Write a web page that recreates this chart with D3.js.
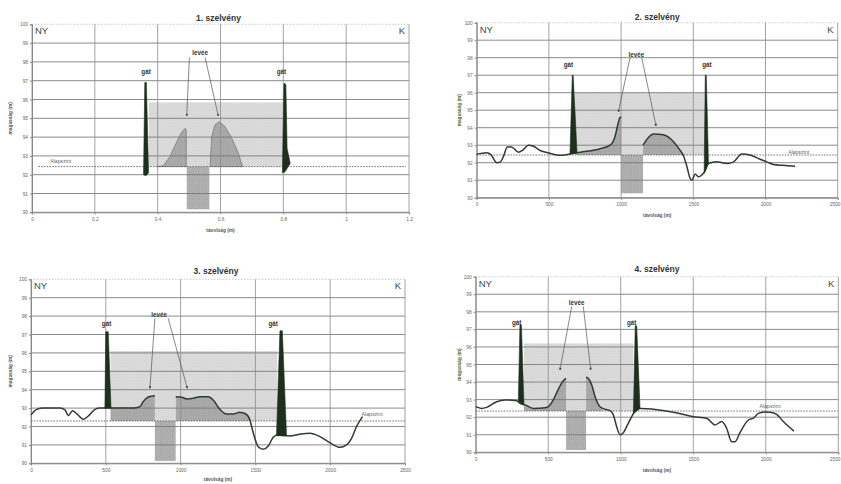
<!DOCTYPE html>
<html><head><meta charset="utf-8">
<script src="https://cdn.jsdelivr.net/npm/d3@7/dist/d3.min.js"></script>
<style>html,body{margin:0;padding:0;background:#fff}svg{display:block}</style>
</head><body>
<script>
// ---------- DATA ----------
const titles = ["1. szelvény","2. szelvény","3. szelvény","4. szelvény"];
const yTicks = [90,91,92,93,94,95,96,97,98,99,100];
const xTicks1 = [0,0.2,0.4,0.6,0.8,1,1.2];
const xTicks = [0,500,1000,1500,2000,2500];
const xTitle = "távolság (m)";
const yTitle = "magasság (m)";
const alapszint = [92.43, 92.44, 92.3, 92.35];
const floodTop = [95.85, 96.0, 96.1, 96.2];
const floodX = [[0.372,0.800],[680,1580],[532,1646],[333,1087]];
const channelX = [[0.4925,0.5645],[1000,1152],[828,967],[623,761]];
const channelBottom = [90.16, 90.25, 90.13, 90.13];
const leveeRanges = [[],[[690,1000],[1152,1445]],[[532,828],[967,1463]],[[333,623],[761,870]]];

// panel 1: levées directly on the base level
const levee1W = [[0.397,92.43],[0.418,92.48],[0.439,92.96],[0.461,93.76],[0.477,94.29],[0.488,94.47],[0.491,94.38],[0.491,92.43]];
const levee1E = [[0.567,92.43],[0.572,94.02],[0.582,94.65],[0.596,94.82],[0.614,94.56],[0.636,93.94],[0.657,93.14],[0.670,92.43]];

// terrain profiles (west and east of the channel)
const terrain2W = [[0,92.48],[69,92.57],[100,92.45],[139,92.0],[160,92.02],[185,92.35],[212,92.9],[240,92.9],[289,92.6],[320,92.72],[358,93.0],[390,92.95],[439,92.7],[500,92.55],[577,92.42],[647,92.5],[716,92.6],[855,92.8],[924,93.0],[958,93.5],[981,94.3],[993,94.6],[1000,94.55]];
const terrain2E = [[1152,93.0],[1185,93.4],[1224,93.64],[1293,93.6],[1363,93.2],[1409,92.7],[1432,92.4],[1455,91.8],[1478,91.1],[1490,91.0],[1513,91.35],[1535,91.2],[1559,91.3],[1580,91.5],[1600,91.9],[1621,92.0],[1663,92.06],[1700,92.0],[1732,91.96],[1779,92.05],[1836,92.5],[1894,92.44],[1963,92.2],[2009,92.05],[2055,91.9],[2120,91.85],[2205,91.8]];
const terrain3W = [[0,92.63],[38,92.93],[82,93.0],[194,93.0],[227,92.9],[249,92.6],[278,92.86],[305,92.7],[350,92.4],[383,92.57],[428,92.93],[461,93.0],[539,93.0],[684,93.0],[728,93.08],[750,93.35],[784,93.6],[828,93.67]];
const terrain3E = [[967,93.62],[1007,93.59],[1040,93.5],[1085,93.53],[1129,93.62],[1185,93.62],[1218,93.44],[1263,92.93],[1307,92.68],[1352,92.68],[1396,92.77],[1437,92.68],[1463,92.36],[1485,91.67],[1519,90.9],[1552,90.76],[1586,90.94],[1619,91.41],[1646,91.54],[1730,91.49],[1797,91.58],[1864,91.63],[1931,91.45],[1998,91.12],[2065,90.87],[2109,91.0],[2143,91.36],[2176,92.0],[2216,92.54]];
const terrain4W = [[0,92.6],[41,92.5],[76,92.56],[145,92.88],[202,92.98],[283,92.94],[306,92.79],[340,92.7],[398,92.5],[478,92.54],[501,92.6],[535,92.98],[570,93.6],[604,94.08],[623,94.21]];
const terrain4E = [[761,94.27],[777,94.2],[800,93.83],[823,93.17],[857,92.6],[891,92.45],[926,92.37],[949,92.13],[972,91.46],[995,91.0],[1018,91.12],[1052,91.65],[1087,92.2],[1110,92.5],[1144,92.5],[1225,92.45],[1363,92.28],[1500,92.03],[1592,91.94],[1650,91.56],[1696,91.75],[1730,91.37],[1765,90.6],[1788,90.6],[1822,91.12],[1880,91.84],[1914,91.94],[1949,92.22],[1995,92.3],[2029,92.28],[2075,92.16],[2121,91.75],[2194,91.21]];

// dikes (gát)
const gat1 = [[[0.355,92.0],[0.359,96.9],[0.364,96.9],[0.371,92.1],[0.363,91.95]],[[0.797,92.1],[0.802,96.86],[0.808,96.8],[0.812,93.4],[0.822,92.6],[0.805,92.15]]];
const gat2 = [[[646,92.5],[662,97.0],[668,97.0],[695,92.55]],[[1575,91.4],[1583,97.0],[1590,97.0],[1605,92.0]]];
const gat3 = [[[494,93.0],[500,97.15],[516,97.15],[535,93.0]],[[1641,91.5],[1664,97.2],[1680,97.2],[1708,91.5]]];
const gat4 = [[[294,92.9],[305,97.25],[315,97.25],[333,92.7]],[[1087,92.2],[1100,97.2],[1110,97.2],[1133,92.5]]];

// annotations
const leveeLabel = [[0.535,98.49],[1106,98.15],[857,98.06],[696,98.5]];
const leveeArrows = [
  [[[0.501,98.24],[0.4925,95.12]],[[0.551,98.24],[0.593,95.12]]],
  [[[1062,98.0],[981,94.9]],[[1143,98.0],[1242,94.1]]],
  [[[828,97.88],[795,94.07]],[[917,97.88],[1045,94.07]]],
  [[[662,98.3],[581,94.69]],[[742,98.3],[793,94.69]]]
];
const gatLabels = [[[0.363,97.48],[0.794,97.48]],[[635,97.6],[1594,97.6]],[[505,97.57],[1619,97.57]],[[283,97.4],[1075,97.4]]];
const alapLabel = [[0.058,92.7],[2230,92.6],[2280,92.68],[2030,92.6]];
const alapLineX = [[0.02,1.19],[0,2500],[0,2500],[0,2500]];

// ---------- LAYOUT ----------
const boxes = [
  {l:32,  r:409,   t:24.3, b:212.3, ty:18.5, xty:230.5, ytx:10},
  {l:476.7,r:837.7,t:22.7, b:197.7, ty:17,   xty:215.5, ytx:459},
  {l:31,  r:405,   t:279.3,b:463.3, ty:271,  xty:479.5, ytx:10},
  {l:475.7,r:838.3,t:276.7,b:452.3, ty:269.5,xty:470.5, ytx:459}
];
const FONT = "'Liberation Sans', Arial, sans-serif";

const svg = d3.select("body").append("svg").attr("width",841).attr("height",484);
const defs = svg.append("defs");
function dotPattern(id, bg, dot, size, r){
  const p = defs.append("pattern").attr("id",id).attr("width",size).attr("height",size).attr("patternUnits","userSpaceOnUse");
  p.append("rect").attr("width",size).attr("height",size).attr("fill",bg);
  p.append("circle").attr("cx",size*0.25).attr("cy",size*0.25).attr("r",r).attr("fill",dot);
  p.append("circle").attr("cx",size*0.75).attr("cy",size*0.75).attr("r",r).attr("fill",dot);
}
dotPattern("pLight","#dcdcdc","#cdcdcd",3,0.5);
dotPattern("pLevee","#a4a4a4","#bababa",3,0.55);
dotPattern("pChan","#bdbdbd","#8f8f8f",2.4,0.55);
defs.append("marker").attr("id","arr").attr("viewBox","0 0 6 6").attr("refX",5).attr("refY",3)
  .attr("markerWidth",4).attr("markerHeight",4).attr("orient","auto")
  .append("path").attr("d","M0,0L6,3L0,6Z").attr("fill","#444");

const terrains = [[null,null],[terrain2W,terrain2E],[terrain3W,terrain3E],[terrain4W,terrain4E]];
const gats = [gat1,gat2,gat3,gat4];

boxes.forEach((bx,i)=>{
  const ticks = i===0 ? xTicks1 : xTicks;
  const x = d3.scaleLinear().domain([0, ticks[ticks.length-1]]).range([bx.l,bx.r]);
  const y = d3.scaleLinear().domain([90,100]).range([bx.b,bx.t]);
  const g = svg.append("g");
  const alap = alapszint[i];

  // flood area (light grey)
  g.append("rect").attr("x",x(floodX[i][0])).attr("width",x(floodX[i][1])-x(floodX[i][0]))
    .attr("y",y(floodTop[i])).attr("height",y(alap)-y(floodTop[i])).attr("fill","url(#pLight)");

  // levées
  const lineGen = d3.line().x(d=>x(d[0])).y(d=>y(d[1]));
  if(i===0){
    [levee1W,levee1E].forEach(L=>{
      g.append("path").attr("d",lineGen(L)+"Z").attr("fill","url(#pLevee)").attr("stroke","#7a7a7a").attr("stroke-width",0.8);
    });
  } else {
    leveeRanges[i].forEach((rg,k)=>{
      const cid = "clip"+i+"_"+k;
      defs.append("clipPath").attr("id",cid).append("rect")
        .attr("x",x(rg[0])).attr("width",x(rg[1])-x(rg[0])).attr("y",bx.t).attr("height",y(alap)-bx.t);
      terrains[i].forEach(T=>{
        const area = d3.area().x(d=>x(d[0])).y0(y(alap)).y1(d=>y(d[1])).curve(d3.curveMonotoneX);
        g.append("path").attr("d",area(T)).attr("fill","url(#pLevee)").attr("clip-path","url(#"+cid+")");
      });
    });
  }

  // channel
  g.append("rect").attr("x",x(channelX[i][0])).attr("width",x(channelX[i][1])-x(channelX[i][0]))
    .attr("y",y(alap)).attr("height",y(channelBottom[i])-y(alap)).attr("fill","url(#pChan)");

  // grid
  yTicks.forEach(v=>{
    g.append("line").attr("x1",bx.l).attr("x2",bx.r).attr("y1",y(v)).attr("y2",y(v))
      .attr("stroke", v===100 ? "#b5b5b5" : "#777").attr("stroke-width", v===100?0.8:1)
      .attr("stroke-dasharray", v===100 ? "1.5,1.5" : null).attr("opacity",0.85);
  });
  ticks.forEach(v=>{
    g.append("line").attr("x1",x(v)).attr("x2",x(v)).attr("y1",bx.t).attr("y2",bx.b)
      .attr("stroke","#8c8c8c").attr("stroke-width",1).attr("opacity",0.8);
  });
  // axes
  const yAx = d3.axisLeft(y).tickValues(yTicks).tickSize(2).tickFormat(d3.format("d"));
  const xAx = d3.axisBottom(x).tickValues(ticks).tickSize(2).tickFormat(d=>String(d));
  const ya = g.append("g").attr("transform",`translate(${bx.l},0)`).call(yAx);
  const xa = g.append("g").attr("transform",`translate(0,${bx.b})`).call(xAx);
  [ya,xa].forEach(a=>{
    a.select(".domain").attr("stroke","#888");
    a.selectAll(".tick line").attr("stroke","#888");
    a.selectAll("text").attr("font-family",FONT).attr("font-size",4.8).attr("fill","#666");
  });
  ya.selectAll("text").attr("x",-4);
  xa.selectAll("text").attr("y",5);
  // keep the last x tick label inside the page
  xa.selectAll(".tick").filter(d=>x(d)+6>841).select("text").attr("text-anchor","end").attr("x",841-x(ticks[ticks.length-1])-1);

  // base level
  g.append("line").attr("x1",x(alapLineX[i][0])).attr("x2",x(alapLineX[i][1])).attr("y1",y(alap)).attr("y2",y(alap))
    .attr("stroke","#666").attr("stroke-width",0.9).attr("stroke-dasharray","1.6,1.2");
  g.append("text").attr("x",x(alapLabel[i][0])).attr("y",y(alapLabel[i][1])).attr("dy","0.35em")
    .attr("text-anchor", i===0?"start":"middle").attr("font-family",FONT).attr("font-size",5.2).attr("fill","#666").text("Alapszint");

  // terrain line
  if(i>0){
    const smooth = d3.line().x(d=>x(d[0])).y(d=>y(d[1])).curve(d3.curveMonotoneX);
    terrains[i].forEach(T=>{
      g.append("path").attr("d",smooth(T)).attr("fill","none").attr("stroke","#2f3d2f").attr("stroke-width",1.5);
    });
  }

  // dikes
  gats[i].forEach(P=>{
    g.append("path").attr("d",lineGen(P)+"Z").attr("fill","#1d2f1d").attr("stroke","#1d2f1d").attr("stroke-width",0.6);
  });
  gatLabels[i].forEach(p=>{
    g.append("text").attr("x",x(p[0])).attr("y",y(p[1])).attr("dy","0.35em").attr("text-anchor","middle")
      .attr("font-family",FONT).attr("font-size",6.3).attr("font-weight","bold").attr("fill","#333").text("gát");
  });

  // levée label + arrows
  g.append("text").attr("x",x(leveeLabel[i][0])).attr("y",y(leveeLabel[i][1])).attr("dy","0.35em").attr("text-anchor","middle")
    .attr("font-family",FONT).attr("font-size",6.3).attr("font-weight","bold").attr("fill","#333").text("levée");
  leveeArrows[i].forEach(a=>{
    g.append("line").attr("x1",x(a[0][0])).attr("y1",y(a[0][1])).attr("x2",x(a[1][0])).attr("y2",y(a[1][1]))
      .attr("stroke","#555").attr("stroke-width",0.7).attr("marker-end","url(#arr)");
  });

  // NY / K
  g.append("text").attr("x",bx.l+3).attr("y",bx.t+10).attr("font-family",FONT).attr("font-size",9.5).attr("fill","#444").text("NY");
  g.append("text").attr("x",bx.r-4).attr("y",bx.t+10).attr("text-anchor","end").attr("font-family",FONT).attr("font-size",9.5).attr("fill","#444").text("K");

  // titles
  g.append("text").attr("x",(bx.l+bx.r)/2+ (i%2===0?-2:0)).attr("y",bx.ty).attr("dy","0.35em").attr("text-anchor","middle")
    .attr("font-family",FONT).attr("font-size",8.5).attr("font-weight","bold").attr("fill","#333").text(titles[i]);
  g.append("text").attr("x",(bx.l+bx.r)/2).attr("y",bx.xty).attr("dy","0.35em").attr("text-anchor","middle")
    .attr("font-family",FONT).attr("font-size",4.8).attr("font-weight","bold").attr("fill","#555").text(xTitle);
  g.append("text").attr("transform",`translate(${bx.ytx},${(bx.t+bx.b)/2}) rotate(-90)`).attr("dy","0.35em").attr("text-anchor","middle")
    .attr("font-family",FONT).attr("font-size",4.8).attr("font-weight","bold").attr("fill", i%2===1?"#4a6a2a":"#555").text(yTitle);
});
</script>
</body></html>
